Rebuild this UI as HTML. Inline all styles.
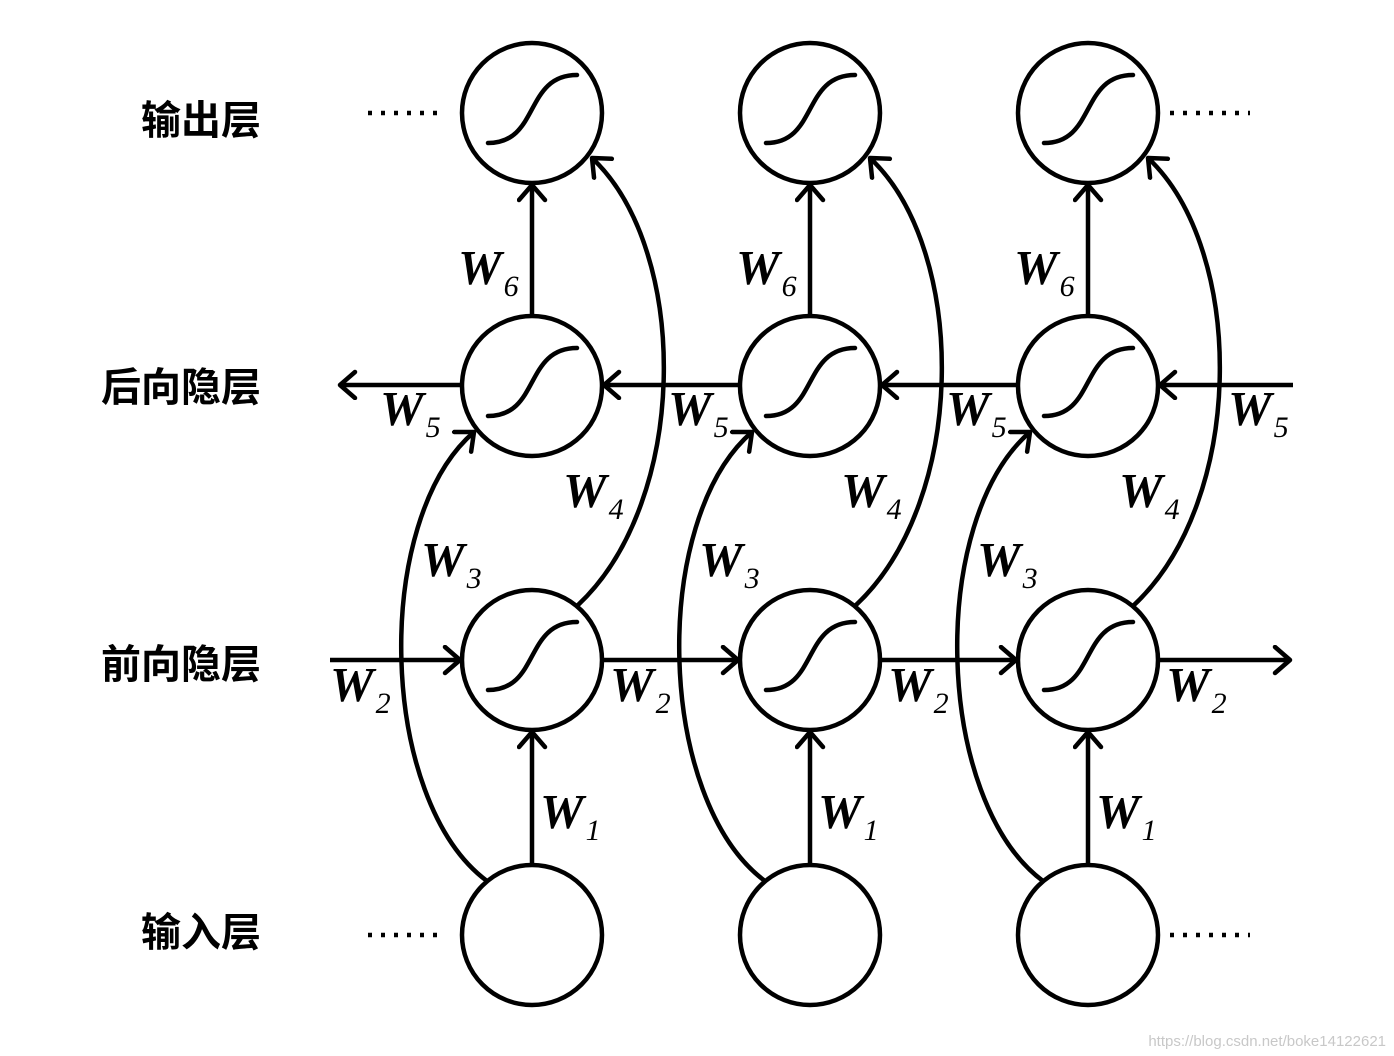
<!DOCTYPE html>
<html><head><meta charset="utf-8"><style>
html,body{margin:0;padding:0;background:#fff;width:1394px;height:1056px;overflow:hidden}
svg{display:block}
.w{font-family:"Liberation Serif",serif;font-style:italic;font-weight:bold;font-size:49px}
.s{font-family:"Liberation Serif",serif;font-style:italic;font-size:30px;font-weight:normal}
.cn{font-family:"Liberation Sans","Noto Sans CJK SC",sans-serif;font-weight:bold;font-size:40px}
</style></head><body>
<svg width="1394" height="1056" viewBox="0 0 1394 1056" xmlns="http://www.w3.org/2000/svg">
<defs>
<marker id="a" markerUnits="userSpaceOnUse" markerWidth="34" markerHeight="34" refX="18" refY="15" orient="auto">
<path d="M3,2 L18,15 L3,28" fill="none" stroke="#000" stroke-width="4.5" stroke-linecap="round" stroke-linejoin="round"/>
</marker>
<g id="sig"><path d="M-44,30 C8,30 -8,-38 45,-38" fill="none" stroke="#000" stroke-width="4.5" stroke-linecap="round"/></g>
<g id="col">
<circle cx="532" cy="113" r="70" fill="none" stroke="#000" stroke-width="4.5"/>
<use href="#sig" x="532" y="113"/>
<circle cx="532" cy="386" r="70" fill="none" stroke="#000" stroke-width="4.5"/>
<use href="#sig" x="532" y="386"/>
<circle cx="532" cy="660" r="70" fill="none" stroke="#000" stroke-width="4.5"/>
<use href="#sig" x="532" y="660"/>
<circle cx="532" cy="935" r="70" fill="none" stroke="#000" stroke-width="4.5"/>
<line x1="532" y1="865" x2="532" y2="732" stroke="#000" stroke-width="4.5" marker-end="url(#a)"/>
<line x1="532" y1="316" x2="532" y2="185" stroke="#000" stroke-width="4.5" marker-end="url(#a)"/>
<path d="M487,881 C378,800 372,520 474,432" fill="none" stroke="#000" stroke-width="4.5" marker-end="url(#a)"/>
<path d="M578,605 C690,500 690,250 592,158" fill="none" stroke="#000" stroke-width="4.5" marker-end="url(#a)"/>
<text x="458" y="284" class="w">W<tspan class="s" dx="2" dy="12">6</tspan></text>
<text x="563" y="507" class="w">W<tspan class="s" dx="2" dy="12">4</tspan></text>
<text x="421" y="576" class="w">W<tspan class="s" dx="2" dy="12">3</tspan></text>
<text x="610" y="701" class="w">W<tspan class="s" dx="2" dy="12">2</tspan></text>
<text x="540" y="828" class="w">W<tspan class="s" dx="2" dy="12">1</tspan></text>
</g>
</defs>
<use href="#col"/>
<use href="#col" x="278"/>
<use href="#col" x="556"/>
<g stroke="#000" stroke-width="4.5" fill="none">
<line x1="1293" y1="385" x2="1160" y2="385" marker-end="url(#a)"/>
<line x1="1017" y1="385" x2="882" y2="385" marker-end="url(#a)"/>
<line x1="739" y1="385" x2="604" y2="385" marker-end="url(#a)"/>
<line x1="461" y1="385" x2="340" y2="385" marker-end="url(#a)"/>
<line x1="330" y1="660" x2="460" y2="660" marker-end="url(#a)"/>
<line x1="603" y1="660" x2="738" y2="660" marker-end="url(#a)"/>
<line x1="881" y1="660" x2="1016" y2="660" marker-end="url(#a)"/>
<line x1="1159" y1="660" x2="1290" y2="660" marker-end="url(#a)"/>
</g>
<g stroke="#000" stroke-width="4.5" stroke-dasharray="4,9">
<line x1="368" y1="113" x2="446" y2="113"/>
<line x1="1170" y1="113" x2="1250" y2="113"/>
<line x1="368" y1="935" x2="446" y2="935"/>
<line x1="1170" y1="935" x2="1250" y2="935"/>
</g>
<text x="380" y="425" class="w">W<tspan class="s" dx="2" dy="12">5</tspan></text>
<text x="668" y="425" class="w">W<tspan class="s" dx="2" dy="12">5</tspan></text>
<text x="946" y="425" class="w">W<tspan class="s" dx="2" dy="12">5</tspan></text>
<text x="1228" y="425" class="w">W<tspan class="s" dx="2" dy="12">5</tspan></text>
<text x="330" y="701" class="w">W<tspan class="s" dx="2" dy="12">2</tspan></text>
<text x="261" y="134" class="cn" text-anchor="end">输出层</text>
<text x="261" y="401" class="cn" text-anchor="end">后向隐层</text>
<text x="261" y="678" class="cn" text-anchor="end">前向隐层</text>
<text x="261" y="946" class="cn" text-anchor="end">输入层</text>
<text x="1386" y="1046" font-family="Liberation Sans, sans-serif" font-size="15" fill="#c8c8c8" text-anchor="end">https://blog.csdn.net/boke14122621</text>
</svg>
</body></html>
